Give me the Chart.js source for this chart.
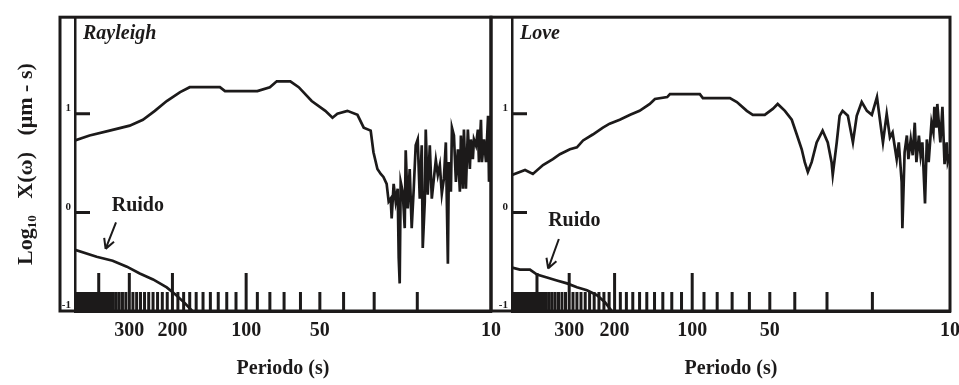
<!DOCTYPE html>
<html lang="es">
<head>
<meta charset="UTF-8">
<title>Rayleigh / Love - espectros</title>
<script src="https://cdn.jsdelivr.net/npm/chart.js@4/dist/chart.umd.min.js"></script>
<style>
  body { margin: 0; background: #fff; }
  #wrap { position: relative; width: 959px; height: 385px; }
  #wrap canvas { position: absolute; left: 0; top: 0; }
</style>
</head>
<body>
<div id="wrap">
  <canvas id="rayleigh" width="959" height="385"></canvas>
  <canvas id="love" width="959" height="385"></canvas>
</div>
<script>
// periodos (s) y log10 de la amplitud
const rayleighPeriod = [500, 436, 361, 299, 264, 236, 211, 186, 170, 128, 122, 90, 80, 75, 66, 61, 54, 47.5, 44.4, 42.4,
  38.6, 35.1, 33.1, 31.0, 30.2, 29.1, 28.2, 27.5,
  26.68, 26.18, 25.69, 25.45, 24.98, 24.51, 24.05, 23.82, 23.60, 23.38,
  22.94, 22.51, 22.30, 21.88, 21.48, 21.08, 20.68, 20.30, 19.92, 19.54,
  19.18, 19.00, 18.64, 18.47, 18.13, 17.78, 17.45, 17.12, 16.80, 16.49,
  16.18, 15.88, 15.58, 15.29, 15.00, 14.86, 14.58, 14.44, 14.17, 13.91,
  13.65, 13.40, 13.27, 13.02, 12.90, 12.66, 12.43, 12.20, 12.08, 11.86,
  11.74, 11.52, 11.31, 11.20, 10.99, 10.89, 10.68, 10.48, 10.28, 10.19, 10.0];
const rayleighAmp = [0.73, 0.78, 0.83, 0.88, 0.94, 1.03, 1.13, 1.22, 1.27, 1.27, 1.23, 1.23, 1.27, 1.33, 1.33, 1.27, 1.13, 1.03, 0.96, 1.00,
  1.03, 0.99, 0.86, 0.83, 0.61, 0.44, 0.39, 0.36,
  0.29, 0.11, 0.14, -0.06, 0.29, 0.11, 0.24, -0.46, -0.72, 0.31,
  0.21, -0.16, 0.63, 0.04, 0.44, -0.16, 0.24, 0.68, 0.74, 0.14,
  0.68, -0.36, 0.11, 0.84, 0.18, 0.68, 0.14, 0.34, 0.53, 0.38,
  0.48, 0.19, 0.34, 0.71, -0.52, 0.51, 0.21, 0.86, 0.78, 0.31,
  0.64, 0.21, 0.78, 0.24, 0.84, 0.24, 0.84, 0.44, 0.74, 0.54,
  0.74, 0.68, 0.84, 0.51, 0.94, 0.51, 0.74, 0.51, 0.98, 0.31, 0.61];

const rayleighNoisePeriod = [500, 408, 351, 307, 272, 240, 211, 195, 178, 166];
const rayleighNoiseAmp = [-0.38, -0.45, -0.49, -0.55, -0.62, -0.68, -0.76, -0.83, -0.92, -1.0];

const lovePeriod = [500, 445, 415, 379, 347, 326, 298, 280, 265, 243,
  222, 209, 191, 174, 160, 146, 139.5, 125, 122, 93.4,
  90.9, 71.4, 67.1, 61.4, 58.2, 52.3, 48.7, 46.6, 43.7, 41.1,
  39.3, 37.6, 36.6, 35.6, 34.4, 32.9, 31.2, 29.8, 28.8, 28.5,
  27.5, 26.8, 26.1, 24.9, 23.8, 23.0, 22.0, 21.0, 20.1, 19.2,
  18.7, 18.2, 17.6, 17.1, 16.7, 16.1, 15.8, 15.4, 15.3, 15.0,
  14.7, 14.5, 14.2, 13.95, 13.7, 13.5, 13.2, 13.0, 12.8, 12.5,
  12.3, 12.1, 11.8, 11.6, 11.5, 11.3, 11.2, 10.9, 10.7, 10.5,
  10.3, 10.2, 10.0];
const loveAmp = [0.38, 0.43, 0.39, 0.48, 0.54, 0.59, 0.64, 0.66, 0.73, 0.79,
  0.86, 0.90, 0.94, 0.99, 1.03, 1.10, 1.15, 1.17, 1.20, 1.20,
  1.16, 1.16, 1.12, 1.03, 0.99, 0.99, 1.05, 1.10, 1.03, 0.94,
  0.79, 0.64, 0.51, 0.41, 0.51, 0.71, 0.83, 0.71, 0.51, 0.38,
  0.71, 0.98, 1.03, 0.98, 0.71, 0.98, 1.12, 1.03, 0.99, 1.17,
  0.94, 0.71, 1.00, 0.76, 0.81, 0.54, 0.71, 0.31, -0.16, 0.61,
  0.78, 0.54, 0.74, 0.58, 0.91, 0.51, 0.78, 0.58, 0.71, 0.09,
  0.74, 0.51, 0.91, 0.81, 1.07, 0.86, 1.10, 0.71, 1.07, 0.49,
  0.71, 0.51, 0.59];

const loveNoisePeriod = [500, 466, 426, 400, 366, 335, 306, 280, 256, 234, 218, 205];
const loveNoiseAmp = [-0.56, -0.58, -0.58, -0.63, -0.66, -0.69, -0.72, -0.76, -0.79, -0.84, -0.91, -1.0];

// ejes
const xLabels = [300, 200, 100, 50, 10];
const tallTicks = [100, 200, 300, 400];
const shortTicks = [20, 30, 40, 50, 60, 70, 80, 90,
  110, 120, 130, 140, 150, 160, 170, 180, 190,
  210, 220, 230, 240, 250, 260, 270, 280, 290,
  310, 320, 330, 340, 350, 360, 370, 380, 390,
  410, 420, 430, 440, 450, 460, 470, 480, 490];
const yLabels = [-1, 0, 1];
const yMarks = [0, 1];

const ink = '#1c1a1a';
const serif = "'Liberation Serif', 'DejaVu Serif', serif";

function pts(px, py) {
  return px.map((p, i) => ({ x: p, y: py[i] }));
}

// marco, marcas interiores de los ejes, titulo del panel y rotulo "Ruido"
const decor = {
  id: 'decor',
  afterDraw(chart, args, o) {
    const { ctx, chartArea: a, scales: { x, y } } = chart;
    ctx.save();
    ctx.strokeStyle = ink;
    ctx.fillStyle = ink;
    ctx.lineWidth = 3;
    ctx.strokeRect(a.left - o.frameGap, a.top, a.right - a.left + o.frameGap, a.bottom - a.top);

    ctx.lineWidth = 3;
    ctx.beginPath();
    shortTicks.forEach(v => {
      const px = x.getPixelForValue(v);
      ctx.moveTo(px, a.bottom); ctx.lineTo(px, a.bottom - 19);
    });
    tallTicks.forEach(v => {
      const px = x.getPixelForValue(v);
      ctx.moveTo(px, a.bottom); ctx.lineTo(px, a.bottom - 38);
    });
    yMarks.forEach(v => {
      const py = y.getPixelForValue(v);
      ctx.moveTo(a.left, py); ctx.lineTo(a.left + 15, py);
    });
    ctx.stroke();

    ctx.font = 'italic bold 20px ' + serif;
    ctx.textBaseline = 'top';
    ctx.textAlign = 'left';
    ctx.fillText(o.title, a.left + 8, a.top + 7);

    ctx.font = 'bold 20px ' + serif;
    ctx.textBaseline = 'alphabetic';
    ctx.fillText('Ruido', x.getPixelForValue(o.label[0]), y.getPixelForValue(o.label[1]));

    const x1 = x.getPixelForValue(o.arrow[0]), y1 = y.getPixelForValue(o.arrow[1]);
    const x2 = x.getPixelForValue(o.arrow[2]), y2 = y.getPixelForValue(o.arrow[3]);
    const ang = Math.atan2(y2 - y1, x2 - x1);
    ctx.beginPath();
    ctx.moveTo(x1, y1); ctx.lineTo(x2, y2);
    [0.5, -0.5].forEach(d => {
      ctx.moveTo(x2, y2);
      ctx.lineTo(x2 - 11 * Math.cos(ang + d), y2 - 11 * Math.sin(ang + d));
    });
    ctx.lineWidth = 2;
    ctx.stroke();
    ctx.restore();
  }
};

function makeChart(id, main, noise, yWidth, padRight, withTitle, decorOpts) {
  return new Chart(document.getElementById(id), {
    type: 'line',
    data: {
      datasets: [
        { data: main, borderColor: ink, borderWidth: 2.7, pointRadius: 0, tension: 0, fill: false },
        { data: noise, borderColor: ink, borderWidth: 2.7, pointRadius: 0, tension: 0, fill: false }
      ]
    },
    options: {
      responsive: false,
      animation: false,
      events: [],
      layout: { padding: { top: 12, right: padRight, bottom: 0, left: 0 } },
      plugins: { legend: { display: false }, tooltip: { enabled: false }, decor: decorOpts },
      scales: {
        x: {
          type: 'logarithmic',
          reverse: true,
          min: 10,
          max: 500,
          afterBuildTicks: s => { s.ticks = xLabels.map(v => ({ value: v })); },
          afterFit: s => { s.height = 74; s.paddingLeft = 0; s.paddingRight = 0; },
          grid: { display: false, drawTicks: false },
          border: { display: true, color: ink, width: 3 },
          ticks: {
            autoSkip: false, minRotation: 0, maxRotation: 0, padding: 8, color: ink,
            font: { family: serif, size: 20, weight: 'bold' },
            callback: v => String(v)
          },
          title: {
            display: true, text: 'Periodo (s)', color: ink,
            font: { family: serif, size: 20, weight: 'bold' },
            padding: { top: 0, bottom: 4 }
          }
        },
        y: {
          type: 'linear',
          min: -1,
          max: 1.98,
          afterBuildTicks: s => { s.ticks = yLabels.map(v => ({ value: v })); },
          afterFit: s => { s.width = yWidth; },
          grid: { display: false, drawTicks: false },
          border: { display: true, color: ink, width: 2.5 },
          ticks: {
            padding: 4, align: 'end', color: ink,
            font: { family: serif, size: 11, weight: 'bold' }
          },
          title: {
            display: withTitle, text: 'Log₁₀   X(ω)   (μm - s)', color: ink,
            font: { family: serif, size: 22, weight: 'bold' },
            padding: { top: 13, bottom: 0 }
          }
        }
      }
    },
    plugins: [decor]
  });
}

makeChart('rayleigh', pts(rayleighPeriod, rayleighAmp), pts(rayleighNoisePeriod, rayleighNoiseAmp),
  75, 468, true,
  { frameGap: 15, title: 'Rayleigh', label: [354, 0.01], arrow: [340, -0.1, 375, -0.37] });

makeChart('love', pts(lovePeriod, loveAmp), pts(loveNoisePeriod, loveNoiseAmp),
  512, 9, false,
  { frameGap: 21, title: 'Love', label: [362, -0.14], arrow: [329, -0.27, 362, -0.57] });
</script>
</body>
</html>
